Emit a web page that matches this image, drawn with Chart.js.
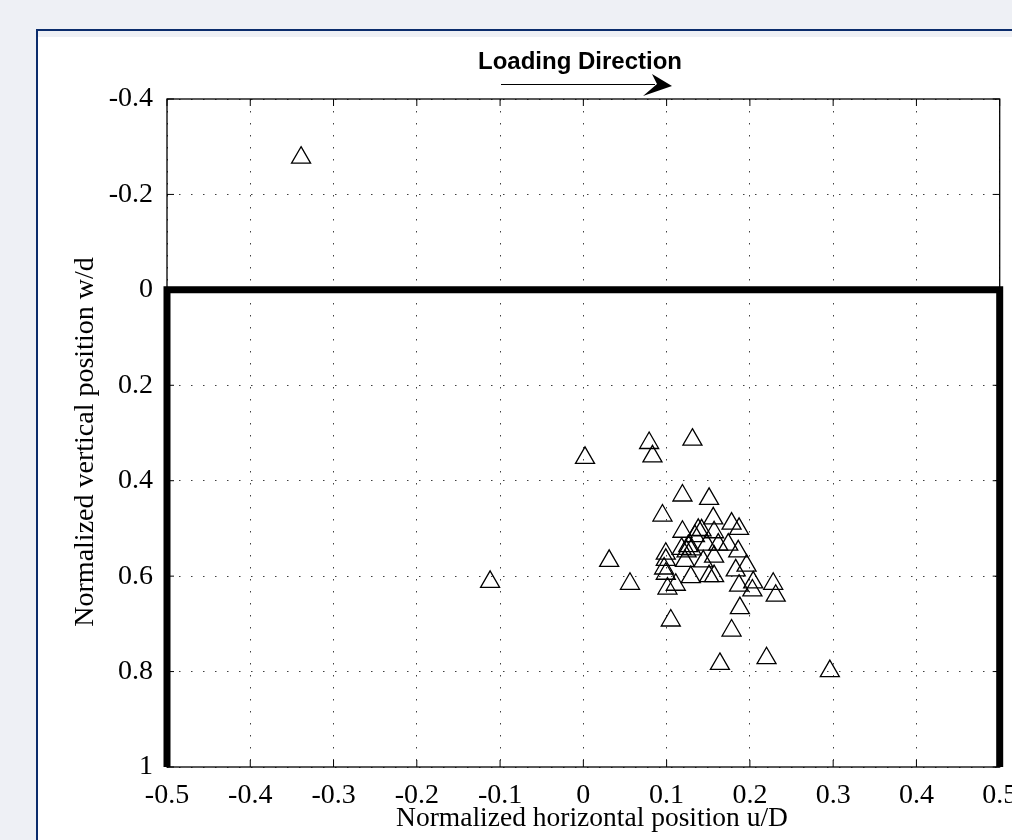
<!DOCTYPE html>
<html>
<head>
<meta charset="utf-8">
<script src="https://cdn.jsdelivr.net/npm/chart.js@4/dist/chart.umd.min.js"></script>
<style>
  body { margin: 0; background: #eef0f5; overflow: hidden; }
  #frame {
    position: absolute; left: 36px; top: 29px; width: 1100px; height: 900px;
    border-top: 2px solid #0b2c6c; border-left: 2px solid #0b2c6c;
    background: #eef0f5;
  }
  #inner { position: absolute; left: 0; top: 6px; right: 0; bottom: 0; background: #fff; }
  #chart { position: absolute; left: 0; top: 0; }
</style>
</head>
<body>
<div id="frame"><div id="inner"></div></div>
<canvas id="chart" width="1012" height="840"></canvas>
<script>
// normalized positions
const uD = [-0.339, -0.112, 0.002, 0.079, 0.131, 0.083, 0.119, 0.151, 0.095, 0.156,
  0.178, 0.187, 0.119, 0.138, 0.142, 0.157, 0.134, 0.148, 0.162, 0.174,
  0.118, 0.126, 0.130, 0.124, 0.186, 0.099, 0.157, 0.031, 0.099, 0.122,
  0.144, 0.196, 0.097, 0.183, 0.099, 0.129, 0.151, 0.157, 0.056, 0.111,
  0.204, 0.228, 0.187, 0.203, 0.101, 0.231, 0.188, 0.105, 0.178, 0.220,
  0.164, 0.296];
const wd = [-0.277, 0.612, 0.352, 0.321, 0.314, 0.349, 0.431, 0.438, 0.473, 0.479,
  0.490, 0.501, 0.507, 0.503, 0.504, 0.508, 0.516, 0.534, 0.534, 0.534,
  0.543, 0.537, 0.544, 0.548, 0.548, 0.553, 0.559, 0.568, 0.566, 0.568,
  0.569, 0.578, 0.584, 0.588, 0.595, 0.602, 0.600, 0.600, 0.616, 0.618,
  0.613, 0.616, 0.620, 0.630, 0.626, 0.641, 0.667, 0.693, 0.714, 0.772,
  0.784, 0.799];

// thick outline of the pile section
const boxU = [-0.5, -0.5, 0.5, 0.5];
const boxW = [1, 0, 0, 1];

const points = uD.map((u, i) => ({ x: u, y: wd[i] }));
const boxLine = boxU.map((u, i) => ({ x: u, y: boxW[i] }));

const serif = "'Liberation Serif', 'Times New Roman', serif";

const framePlugin = {
  id: "frame",
  beforeDatasetsDraw(chart) {
    const { ctx, chartArea: a, scales } = chart;
    ctx.save();
    ctx.strokeStyle = "#000";
    ctx.lineWidth = 1.3;
    ctx.strokeRect(a.left, a.top, a.right - a.left, a.bottom - a.top);
    ctx.lineWidth = 1;
    ctx.beginPath();
    scales.x.ticks.forEach((t) => {
      const px = scales.x.getPixelForValue(t.value);
      ctx.moveTo(px, a.top); ctx.lineTo(px, a.top + 7);
      ctx.moveTo(px, a.bottom); ctx.lineTo(px, a.bottom - 7);
    });
    scales.y.ticks.forEach((t) => {
      const py = scales.y.getPixelForValue(t.value);
      ctx.moveTo(a.left, py); ctx.lineTo(a.left + 7, py);
      ctx.moveTo(a.right, py); ctx.lineTo(a.right - 7, py);
    });
    ctx.stroke();
    ctx.restore();
  },
  afterDraw(chart) {
    const ctx = chart.ctx;
    ctx.save();
    ctx.fillStyle = "#000";
    ctx.font = "bold 24px 'Liberation Sans', Arial, sans-serif";
    ctx.textAlign = "center";
    ctx.textBaseline = "middle";
    ctx.fillText("Loading Direction", 580, 62);
    // arrow
    ctx.strokeStyle = "#000";
    ctx.lineWidth = 1.2;
    ctx.beginPath();
    ctx.moveTo(501, 84.5);
    ctx.lineTo(655, 84.5);
    ctx.stroke();
    ctx.beginPath();
    ctx.moveTo(672, 86);
    ctx.lineTo(652, 74);
    ctx.lineTo(657, 84);
    ctx.lineTo(643, 96);
    ctx.closePath();
    ctx.fill();

    // axis titles
    ctx.textBaseline = "alphabetic";
    ctx.font = "27.5px " + serif;
    ctx.fillText("Normalized horizontal position u/D", 592, 826);
    ctx.translate(93, 442);
    ctx.rotate(-Math.PI / 2);
    ctx.font = "28px " + serif;
    ctx.fillText("Normalized vertical position w/d", 0, 0);
    ctx.restore();
  },
};

const tickLabel = (v) => (Math.abs(v) < 1e-9 ? "0" : String(Math.round(v * 10) / 10));

new Chart(document.getElementById("chart"), {
  type: "scatter",
  data: {
    datasets: [
      {
        data: points,
        pointStyle: "triangle",
        pointRadius: 11,
        borderColor: "#000",
        borderWidth: 1.3,
        backgroundColor: "rgba(0,0,0,0)",
      },
      {
        data: boxLine,
        showLine: true,
        borderColor: "#000",
        borderWidth: 7,
        pointRadius: 0,
        clip: false,
      },
    ],
  },
  options: {
    responsive: false,
    animation: false,
    events: [],
    layout: { padding: { top: 99, right: 12, left: 0, bottom: 0 } },
    plugins: { legend: { display: false }, tooltip: { enabled: false } },
    scales: {
      x: {
        type: "linear",
        min: -0.5,
        max: 0.5,
        ticks: {
          stepSize: 0.1,
          color: "#000",
          padding: 12,
          font: { family: serif, size: 28 },
          callback: tickLabel,
        },
        grid: { color: "rgba(0,0,0,0.75)", lineWidth: 1, drawTicks: false },
        border: { display: false, dash: [1.5, 10.5] },
        afterFit: (s) => { s.height = 73; s.paddingLeft = 0; s.paddingRight = 0; },
      },
      y: {
        type: "linear",
        reverse: true,
        min: -0.4,
        max: 1,
        ticks: {
          stepSize: 0.2,
          color: "#000",
          padding: 14,
          font: { family: serif, size: 28 },
          callback: tickLabel,
        },
        grid: { color: "rgba(0,0,0,0.75)", lineWidth: 1, drawTicks: false },
        border: { display: false, dash: [1.5, 10.5] },
        afterFit: (s) => { s.width = 167; s.paddingTop = 0; s.paddingBottom = 0; },
      },
    },
  },
  plugins: [framePlugin],
});
</script>
</body>
</html>
